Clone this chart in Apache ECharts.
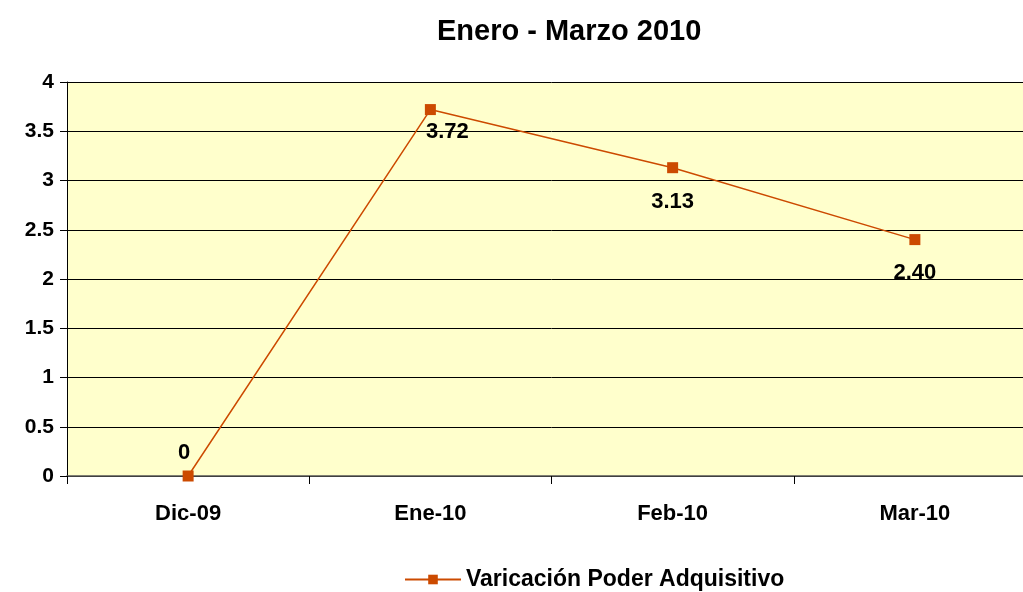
<!DOCTYPE html>
<html>
<head>
<meta charset="utf-8">
<script src="https://cdn.jsdelivr.net/npm/echarts@6/dist/echarts.min.js"></script>
<style>
  html, body { margin: 0; padding: 0; background: #fff; overflow: hidden; }
  /* el área del gráfico sigue más allá del borde derecho, como en el original */
  #chart { width: 1036px; height: 592px; }
</style>
</head>
<body>
<div id="chart"></div>
<script>
// datos del gráfico
const meses = ['Dic-09', 'Ene-10', 'Feb-10', 'Mar-10']
const variacion = [0, 3.72, 3.13, 2.40]
const etiquetas = ['0', '3.72', '3.13', '2.40']
const nombreSerie = 'Varicación Poder Adquisitivo'

const fuente = 'Liberation Sans, Arial, sans-serif'
const colorLinea = '#CC4A00'

// posición de cada etiqueta respecto al punto
const offsets = [[-4, -2], [17, 1], [0, 13], [0, 12]]

const chart = echarts.init(document.getElementById('chart'))

chart.setOption({
  animation: false,
  title: {
    text: 'Enero - Marzo 2010',
    left: 432,
    top: 12,
    textStyle: { fontFamily: fuente, fontSize: 29, fontWeight: 'bold', color: '#000' }
  },
  legend: {
    left: 399,
    top: 563,
    itemWidth: 56,
    itemHeight: 12,
    data: [nombreSerie],
    textStyle: { fontFamily: fuente, fontSize: 23, fontWeight: 'bold', color: '#000' }
  },
  grid: {
    left: 67,
    right: 0,
    top: 82,
    bottom: 116,
    show: true,
    backgroundColor: '#FFFFCC',
    borderWidth: 0
  },
  xAxis: {
    type: 'category',
    data: meses,
    boundaryGap: true,
    axisLine: { lineStyle: { color: '#555', width: 1.5 } },
    axisTick: { show: true, length: 8, lineStyle: { color: '#000' } },
    axisLabel: { fontFamily: fuente, fontSize: 22, fontWeight: 'bold', color: '#000', margin: 27 }
  },
  yAxis: {
    type: 'value',
    min: 0,
    max: 4,
    interval: 0.5,
    axisLine: { show: true, lineStyle: { color: '#000' } },
    axisTick: { show: true, length: 7, lineStyle: { color: '#000' } },
    splitLine: { show: true, lineStyle: { color: '#000', width: 1 } },
    axisLabel: { fontFamily: fuente, fontSize: 21, fontWeight: 'bold', color: '#000', margin: 13 }
  },
  series: [{
    name: nombreSerie,
    type: 'line',
    data: variacion.map((v, i) => ({
      value: v,
      label: {
        show: true,
        formatter: etiquetas[i],
        position: i === 0 ? 'top' : 'bottom',
        offset: offsets[i]
      }
    })),
    symbol: 'rect',
    symbolSize: 11,
    lineStyle: { color: colorLinea, width: 1.5 },
    itemStyle: { color: colorLinea },
    label: { fontFamily: fuente, fontSize: 22, fontWeight: 'bold', color: '#000' }
  }]
})
</script>
</body>
</html>
